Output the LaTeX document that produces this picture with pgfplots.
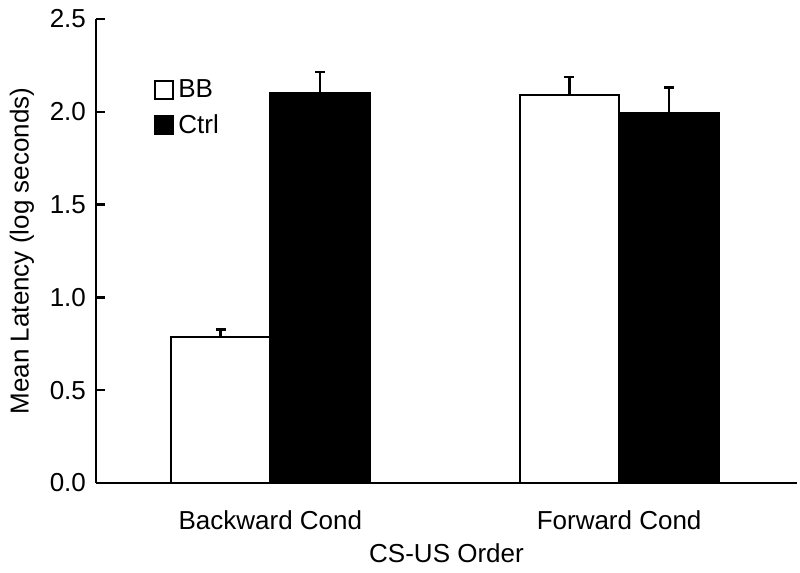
\documentclass[border=0pt]{standalone}
\usepackage{pgfplots}
\pgfplotsset{compat=1.18}
\usepackage{fontspec}
\setmainfont{Liberation Sans}
\begin{document}
\begin{tikzpicture}
\begin{axis}[
    scale only axis,
    width=350.5pt, height=232pt,
    font=\fontsize{13}{15.6}\selectfont,
    axis x line*=bottom,
    axis y line*=left,
    axis line style={line width=1.2pt, black},
    xmin=-0.5, xmax=1.51,
    ymin=0, ymax=2.5,
    ybar=0pt,
    bar width=0.285,
    xtick={0,1},
    xticklabels={Backward Cond, Forward Cond},
    xtick style={draw=none},
    ytick={0,0.5,1,1.5,2,2.5},
    ytick style={line width=1.2pt, black},
    tick align=inside,
    major tick length=4.5pt,
    yticklabel style={xshift=-1.5pt, /pgf/number format/.cd, fixed, fixed zerofill, precision=1, assume math mode=true},
    xlabel={CS-US Order},
    ylabel={Mean Latency (log seconds)},
    xticklabel style={yshift=-10.5pt},
    xlabel style={yshift=0pt},
    ylabel style={yshift=1pt},
    legend style={draw=none, fill=none, at={(26pt,187.5pt)}, anchor=west,
        font=\fontsize{13}{15.6}\selectfont, row sep=3pt,
        /tikz/every even column/.append style={column sep=2pt}},
    legend cell align=left,
    legend image code/.code={\draw[#1, line width=1pt] (0pt,-4.5pt) rectangle (9pt,4.5pt);},
    error bars/y dir=plus,
    error bars/y explicit,
    error bars/error bar style={line width=1.2pt, black},
    error bars/error mark options={line width=1.2pt, black, mark size=2.5pt, rotate=90},
]
\addplot[fill=white, draw=black, line width=1pt] coordinates {
    (0,0.788) +- (0,0.04)
    (1,2.089) +- (0,0.10)
};
\addplot[fill=black, draw=black, line width=1pt] coordinates {
    (0,2.103) +- (0,0.11)
    (1,1.995) +- (0,0.135)
};
\legend{BB, Ctrl}
\end{axis}
\path (-48pt,-45pt) rectangle (352pt,241.5pt);
\end{tikzpicture}
\end{document}
